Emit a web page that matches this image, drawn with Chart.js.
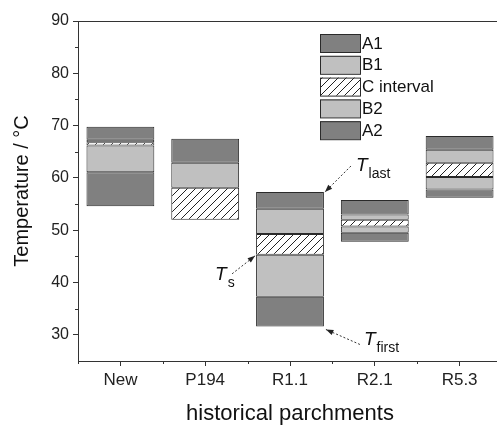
<!DOCTYPE html>
<html>
<head>
<meta charset="utf-8">
<script src="https://cdn.jsdelivr.net/npm/chart.js@4/dist/chart.umd.min.js"></script>
<style>
  html, body { margin: 0; padding: 0; overflow: hidden; background: #fff; }
  #wrap { width: 510px; height: 427px; }
</style>
</head>
<body>
<div id="wrap"><canvas id="chart"></canvas></div>
<script>
// Data: [low, high] temperature of each zone, degrees C
const categories = ['New', 'P194', 'R1.1', 'R2.1', 'R5.3'];
const zoneA2 = [[54.6, 61.1], null, [31.6, 37.3], [47.8, 49.5], [56.2, 57.8]];
const zoneB2 = [[61.1, 66.2], null, [37.3, 45.3], [49.5, 50.7], [57.8, 60.2]];
const zoneC  = [[66.2, 66.8], [52.0, 58.1], [45.3, 49.3], [50.7, 52.0], [60.2, 62.9]];
const zoneB1 = [[66.8, 67.3], [58.1, 62.9], [49.3, 54.1], [52.0, 53.0], [62.9, 65.4]];
const zoneA1 = [[67.3, 69.8], [62.9, 67.5], [54.1, 57.3], [53.0, 55.8], [65.4, 68.0]];
const yTicks = [30, 40, 50, 60, 70, 80, 90];

const DARK = '#808080';
const LIGHT = '#c0c0c0';
const EDGE = '#2a2a2a';
const FONT = 'Liberation Sans, Arial, sans-serif';

// hatch fill for the C interval
function makeHatch() {
  const c = document.createElement('canvas');
  c.width = 8; c.height = 8;
  const g = c.getContext('2d');
  g.fillStyle = '#fff';
  g.fillRect(0, 0, 8, 8);
  g.strokeStyle = '#222';
  g.lineWidth = 1;
  g.beginPath();
  g.moveTo(0, 8); g.lineTo(8, 0);
  g.moveTo(-4, 4); g.lineTo(4, -4);
  g.moveTo(4, 12); g.lineTo(12, 4);
  g.stroke();
  return g.createPattern(c, 'repeat');
}
const hatch = makeHatch();

const legendItems = [
  { label: 'A1', fill: DARK },
  { label: 'B1', fill: LIGHT },
  { label: 'C interval', fill: hatch },
  { label: 'B2', fill: LIGHT },
  { label: 'A2', fill: DARK }
];

function barSet(label, data, fill) {
  return {
    label: label,
    data: data,
    backgroundColor: fill,
    borderColor: EDGE,
    borderWidth: 1,
    borderSkipped: false,
    barPercentage: 0.8,
    categoryPercentage: 1.0,
    grouped: false
  };
}

// frame, minor ticks, legend and annotations
const extras = {
  id: 'extras',
  afterDraw(chart) {
    const { ctx, chartArea, scales: { x, y } } = chart;
    ctx.save();
    ctx.strokeStyle = '#333';
    ctx.lineWidth = 1;

    // top border
    ctx.beginPath();
    ctx.moveTo(chartArea.left, chartArea.top + 0.5);
    ctx.lineTo(chartArea.right, chartArea.top + 0.5);
    ctx.stroke();

    // minor ticks
    ctx.beginPath();
    for (let v = 35; v < 90; v += 10) {
      const py = Math.round(y.getPixelForValue(v)) + 0.5;
      ctx.moveTo(chartArea.left, py);
      ctx.lineTo(chartArea.left - 3, py);
    }
    for (let i = 0; i <= categories.length; i++) {
      const px = Math.round(x.getPixelForValue(i - 0.5)) + 0.5;
      ctx.moveTo(px, chartArea.bottom);
      ctx.lineTo(px, chartArea.bottom + 3);
    }
    ctx.stroke();

    // legend
    const lx = 320, ly = 34, sw = 40, sh = 18, step = 21.8;
    ctx.font = '17px ' + FONT;
    ctx.textBaseline = 'middle';
    ctx.textAlign = 'left';
    legendItems.forEach((it, i) => {
      const top = ly + i * step;
      ctx.fillStyle = it.fill;
      ctx.fillRect(lx, top, sw, sh);
      ctx.strokeStyle = EDGE;
      ctx.strokeRect(lx + 0.5, top + 0.5, sw, sh);
      ctx.fillStyle = '#111';
      ctx.fillText(it.label, lx + sw + 2, top + sh / 2 + 1);
    });

    // annotations on the R1.1 bar
    const el = chart.getDatasetMeta(4).data[2];
    const half = el.width / 2;
    const right = el.x + half, left = el.x - half;
    const topY = y.getPixelForValue(zoneA1[2][1]);
    const sY = y.getPixelForValue(zoneC[2][0]);
    const botY = y.getPixelForValue(zoneA2[2][0]);

    function arrow(x0, y0, x1, y1) {
      ctx.strokeStyle = '#333';
      ctx.fillStyle = '#222';
      ctx.setLineDash([2, 2]);
      ctx.beginPath();
      ctx.moveTo(x0, y0);
      ctx.lineTo(x1, y1);
      ctx.stroke();
      ctx.setLineDash([]);
      const a = Math.atan2(y1 - y0, x1 - x0);
      ctx.beginPath();
      ctx.moveTo(x1, y1);
      ctx.lineTo(x1 - 8 * Math.cos(a - 0.35), y1 - 8 * Math.sin(a - 0.35));
      ctx.lineTo(x1 - 8 * Math.cos(a + 0.35), y1 - 8 * Math.sin(a + 0.35));
      ctx.closePath();
      ctx.fill();
    }
    function label(px, py, sub) {
      ctx.fillStyle = '#111';
      ctx.textBaseline = 'alphabetic';
      ctx.font = 'italic 19px ' + FONT;
      ctx.fillText('T', px, py);
      const w = ctx.measureText('T').width;
      ctx.font = '14px ' + FONT;
      ctx.fillText(sub, px + w + 1, py + 7);
    }

    arrow(right + 27, topY - 26, right + 1, topY);
    label(right + 32, topY - 21, 'last');
    arrow(left - 24, sY + 19, left - 1, sY + 1);
    label(left - 41, sY + 25, 's');
    arrow(right + 36, botY + 18, right + 2, botY + 3);
    label(right + 40, botY + 19, 'first');

    ctx.restore();
  }
};

const ctx = document.getElementById('chart').getContext('2d');

const chart = new Chart(ctx, {
  type: 'bar',
  data: {
    labels: categories,
    datasets: [
      barSet('A2', zoneA2, DARK),
      barSet('B2', zoneB2, LIGHT),
      barSet('C interval', zoneC, hatch),
      barSet('B1', zoneB1, LIGHT),
      barSet('A1', zoneA1, DARK)
    ]
  },
  options: {
    responsive: true,
    maintainAspectRatio: false,
    animation: false,
    layout: { padding: { top: 21, right: 8, left: 0, bottom: 0 } },
    plugins: {
      legend: { display: false },
      tooltip: { enabled: false }
    },
    scales: {
      x: {
        offset: true,
        grid: { display: true, drawOnChartArea: false, offset: false, tickLength: 5, color: '#333' },
        border: { color: '#333', width: 1 },
        ticks: { color: '#222', font: { family: FONT, size: 17 }, padding: 4, maxRotation: 0 },
        title: { display: true, text: 'historical parchments', color: '#111',
                 font: { family: FONT, size: 22 }, padding: { top: 4, bottom: 0 } },
        afterFit: s => { s.height = 66; }
      },
      y: {
        min: 25,
        max: 90,
        afterBuildTicks: s => { s.ticks = yTicks.map(v => ({ value: v })); },
        grid: { display: true, drawOnChartArea: false, tickLength: 5, color: '#333' },
        border: { color: '#333', width: 1 },
        ticks: { color: '#222', font: { family: FONT, size: 16 }, padding: 4 },
        title: { display: true, text: 'Temperature / °C', color: '#111',
                 font: { family: FONT, size: 20 }, padding: { top: 10, bottom: 0 } },
        afterFit: s => { s.width = 78; }
      }
    }
  },
  plugins: [extras]
});
</script>
</body>
</html>
